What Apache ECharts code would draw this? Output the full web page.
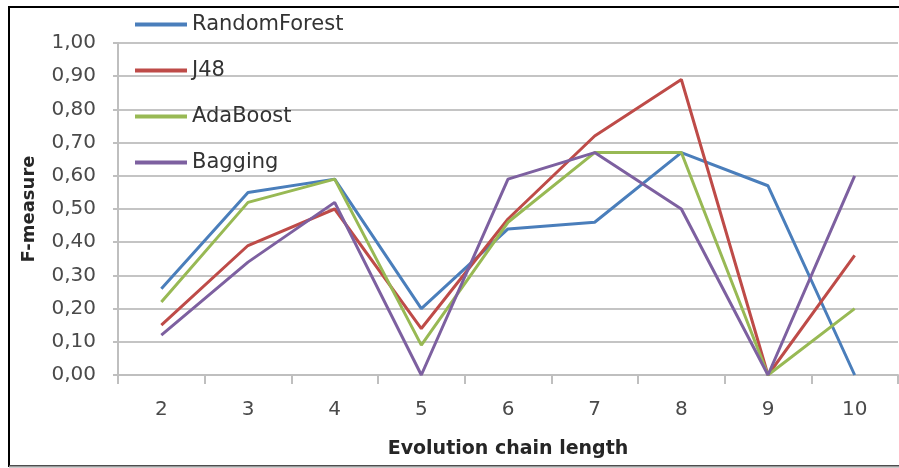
<!DOCTYPE html>
<html>
<head>
<meta charset="utf-8">
<script src="https://cdn.jsdelivr.net/npm/echarts@6/dist/echarts.min.js"></script>
<style>
  html, body { margin: 0; padding: 0; background: #ffffff; }
  #chart { width: 899px; height: 468px; }
</style>
</head>
<body>
<div id="chart"></div>
<script>
// Evolution chain lengths on the x axis
const chainLengths = ['2', '3', '4', '5', '6', '7', '8', '9', '10'];

// F-measure per classifier
const randomForest = [0.26, 0.55, 0.59, 0.20, 0.44, 0.46, 0.67, 0.57, 0.00];
const j48          = [0.15, 0.39, 0.50, 0.14, 0.47, 0.72, 0.89, 0.00, 0.36];
const adaBoost     = [0.22, 0.52, 0.59, 0.09, 0.46, 0.67, 0.67, 0.00, 0.20];
const bagging      = [0.12, 0.34, 0.52, 0.00, 0.59, 0.67, 0.50, 0.00, 0.60];

const seriesNames = ['RandomForest', 'J48', 'AdaBoost', 'Bagging'];
const seriesColors = ['#4a7ebb', '#be4b48', '#98b954', '#7d60a0'];
const seriesData = [randomForest, j48, adaBoost, bagging];

const chart = echarts.init(document.getElementById('chart'), null, { renderer: 'canvas' });

const fontFamily = 'DejaVu Sans';

chart.setOption({
  backgroundColor: '#ffffff',
  animation: false,
  graphic: [
    {
      // outer frame of the chart area
      type: 'rect',
      shape: { x: 9, y: 7, width: 920, height: 459 },
      style: { fill: 'none', stroke: '#000000', lineWidth: 2 },
      z: 100
    },
    {
      type: 'line',
      shape: { x1: 9, y1: 466.5, x2: 899, y2: 466.5 },
      style: { stroke: '#9a9a9a', lineWidth: 2 },
      z: 101
    }
  ],
  grid: { left: 118, right: 1, top: 43, bottom: 93 },
  legend: {
    orient: 'vertical',
    left: 130,
    top: 9,
    itemWidth: 52,
    itemHeight: 4,
    itemGap: 25,
    icon: 'rect',
    textStyle: { fontFamily: fontFamily, fontSize: 21, color: '#333333' },
    data: seriesNames
  },
  xAxis: {
    type: 'category',
    data: chainLengths,
    boundaryGap: true,
    name: 'Evolution chain length',
    nameLocation: 'middle',
    nameGap: 65,
    nameTextStyle: { fontFamily: fontFamily, fontSize: 19, fontWeight: 'bold', color: '#262626' },
    axisLine: { show: true, lineStyle: { color: '#bfbfbf', width: 2 } },
    axisTick: { show: true, interval: 0, length: 9, lineStyle: { color: '#bfbfbf', width: 2 } },
    axisLabel: { fontFamily: fontFamily, fontSize: 20, color: '#4a4a4a', margin: 25 },
    splitLine: { show: false }
  },
  yAxis: {
    type: 'value',
    min: 0,
    max: 1,
    interval: 0.1,
    name: 'F-measure',
    nameLocation: 'middle',
    nameGap: 80,
    nameTextStyle: { fontFamily: fontFamily, fontSize: 18, fontWeight: 'bold', color: '#262626' },
    axisLine: { show: true, lineStyle: { color: '#bfbfbf', width: 2 } },
    axisTick: { show: true, length: 5, lineStyle: { color: '#bfbfbf', width: 2 } },
    axisLabel: {
      fontFamily: fontFamily,
      fontSize: 20,
      color: '#4a4a4a',
      margin: 22,
      formatter: v => v.toFixed(2).replace('.', ',')
    },
    splitLine: { show: true, lineStyle: { color: '#c4c4c4', width: 2 } }
  },
  series: seriesNames.map((name, i) => ({
    name: name,
    type: 'line',
    data: seriesData[i],
    symbol: 'none',
    color: seriesColors[i],
    lineStyle: { width: 3, color: seriesColors[i] }
  }))
});
</script>
</body>
</html>
